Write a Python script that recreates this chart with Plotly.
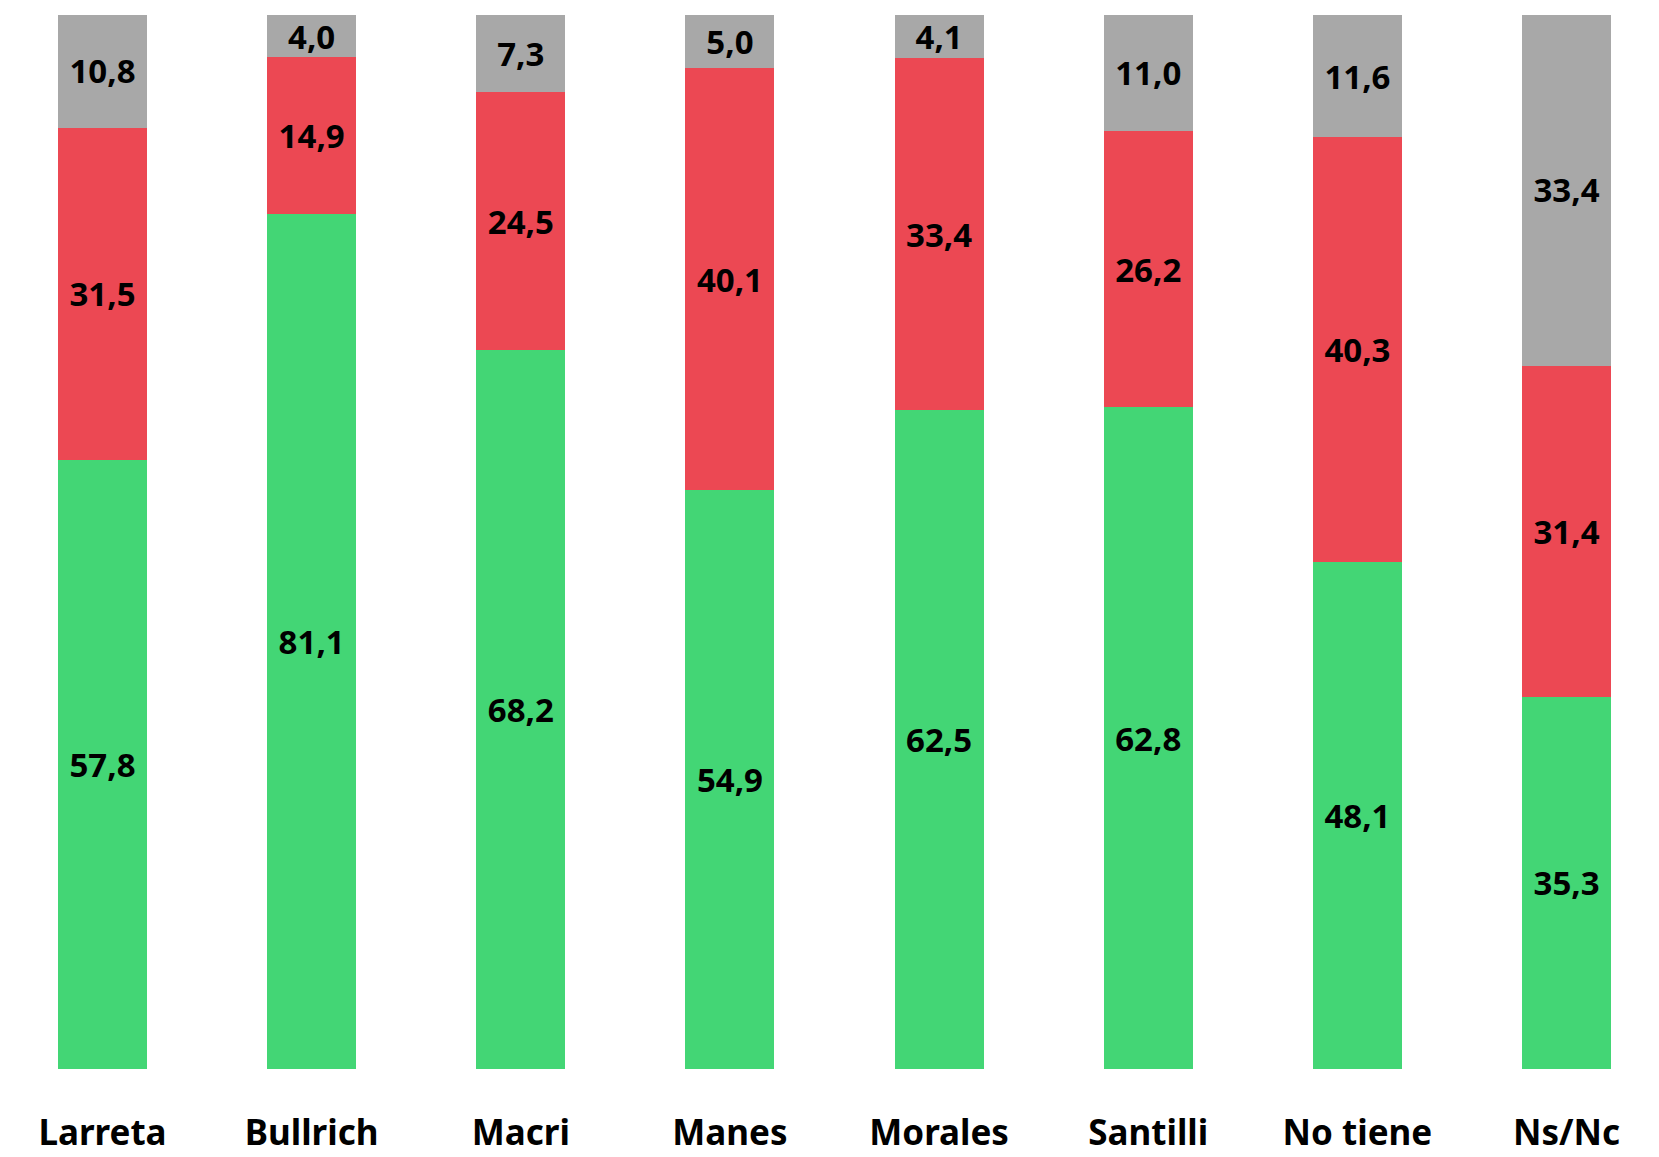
import plotly.graph_objects as go

# categories and stacked shares (%)
candidates = ['Larreta', 'Bullrich', 'Macri', 'Manes', 'Morales', 'Santilli', 'No tiene', 'Ns/Nc']
positive = [57.8, 81.1, 68.2, 54.9, 62.5, 62.8, 48.1, 35.3]
negative = [31.5, 14.9, 24.5, 40.1, 33.4, 26.2, 40.3, 31.4]
unknown = [10.8, 4.0, 7.3, 5.0, 4.1, 11.0, 11.6, 33.4]

series = [
    (positive, '#43D675'),
    (negative, '#EC4853'),
    (unknown, '#A8A8A8'),
]

def fmt(v):
    return f'{v:.1f}'.replace('.', ',')

fig = go.Figure()
for vals, color in series:
    fig.add_trace(go.Bar(
        x=list(range(len(candidates))), y=vals,
        marker=dict(color=color, line=dict(width=0)),
        text=[fmt(v) for v in vals],
        textposition='inside', insidetextanchor='middle',
        constraintext='none',
        textfont=dict(family='Noto Sans', size=33, color='black', weight='bold'),
        showlegend=False,
    ))

fig.update_layout(
    barmode='stack', bargap=0.574,
    width=1659, height=1157,
    margin=dict(l=0, r=0, t=15, b=88),
    plot_bgcolor='white', paper_bgcolor='white',
    xaxis=dict(
        tickmode='array', tickvals=list(range(len(candidates))), ticktext=candidates,
        range=[-0.49, 7.442], showgrid=False, zeroline=False, showline=False,
        ticks='', ticklabelstandoff=40, automargin=False,
        tickfont=dict(family='Noto Sans', size=35, color='black', weight='bold'),
    ),
    yaxis=dict(range=[0, 100], visible=False, automargin=False),
)

# drop the default page margin so the figure fills the window
fig.write_html('out.html', config={'displayModeBar': False},
               post_script="document.body.style.margin='0';")
